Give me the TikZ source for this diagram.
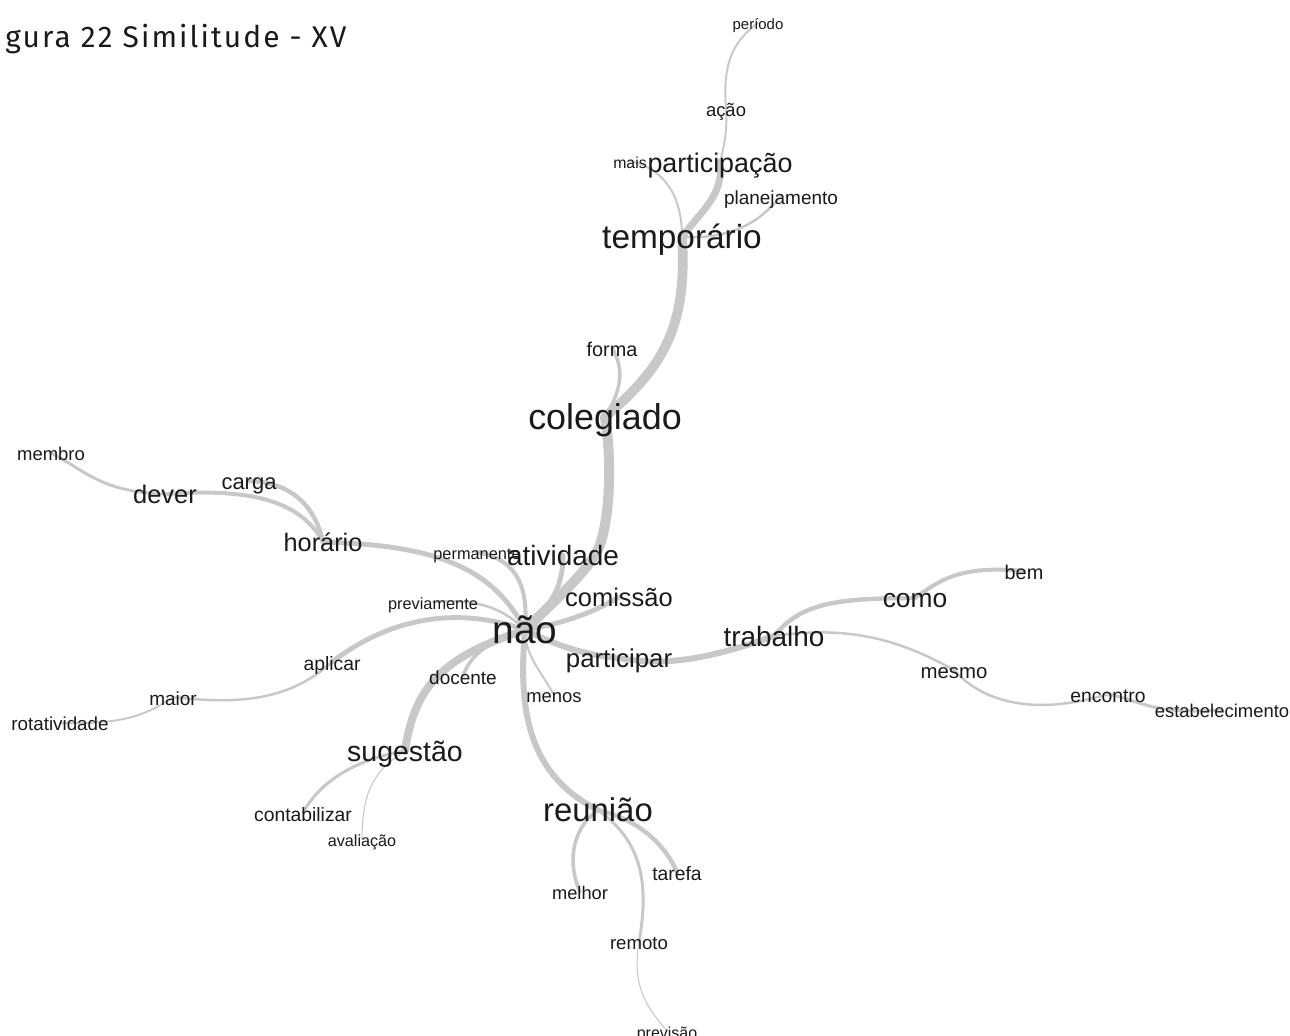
\documentclass[tikz,border=0pt]{standalone}
\usepackage{fontspec}
\setmainfont{Liberation Sans}
\newfontfamily\titlefont[LetterSpace=7]{Fira Sans}
\pgfdeclarelayer{bg}
\pgfsetlayers{bg,main}
\definecolor{edgegray}{HTML}{C8C8C8}
\definecolor{txt}{HTML}{1A1A1A}
\newcommand\wmid[1]{\raisebox{\dimexpr-0.5ex-1.7pt\relax}{#1}}
\tikzset{
 word/.style={inner sep=0pt, anchor=base, text=txt, font=\fontsize{#1}{#1}\selectfont},
 lnk/.style={draw=edgegray, line width=#1, line cap=round},
}
\begin{document}
\begin{tikzpicture}[x=0.02cm,y=-0.02cm]
\useasboundingbox (0,0) rectangle (1290,1035);
\node[anchor=base west, inner sep=0pt, font=\titlefont\fontsize{17}{17}\selectfont, text=txt] (title) at (5,47) {gura 22 Similitude - XV};

\node[word=8.5]  (periodo) at (758,23) {\wmid{período}};
\node[word=10.5] (acao) at (726,109) {\wmid{ação}};
\node[word=9]    (mais) at (630,161) {\wmid{mais}};
\node[word=15.3] (participacao) at (720,162) {\wmid{participação}};
\node[word=10.8] (planejamento) at (781,196) {\wmid{planejamento}};
\node[word=19]   (temporario) at (682,237) {\wmid{temporário}};
\node[word=11.3] (forma) at (612,348) {\wmid{forma}};
\node[word=20.4] (colegiado) at (605,417) {\wmid{colegiado}};
\node[word=10.5] (membro) at (51,453) {\wmid{membro}};
\node[word=12.5] (carga) at (249,481) {\wmid{carga}};
\node[word=14.5] (dever) at (165,494) {\wmid{dever}};
\node[word=14.4] (horario) at (323,542) {\wmid{horário}};
\node[word=9.3]  (permanente) at (477,552) {\wmid{permanente}};
\node[word=15.9] (atividade) at (563,555) {\wmid{atividade}};
\node[word=14.5] (comissao) at (619,597) {\wmid{comissão}};
\node[word=9.3]  (previamente) at (433,602) {\wmid{previamente}};
\node[word=22.1] (nao) at (525,630) {\wmid{não}};
\node[word=14.7] (participar) at (619,658) {\wmid{participar}};
\node[word=15.9] (trabalho) at (774,636) {\wmid{trabalho}};
\node[word=11]   (aplicar) at (332,662) {\wmid{aplicar}};
\node[word=10.8] (docente) at (463,676) {\wmid{docente}};
\node[word=10.5] (menos) at (554,695) {\wmid{menos}};
\node[word=10.8] (maior) at (173,697) {\wmid{maior}};
\node[word=10.7] (rotatividade) at (60,723) {\wmid{rotatividade}};
\node[word=16.2] (sugestao) at (405,751) {\wmid{sugestão}};
\node[word=18.7] (reuniao) at (598,810) {\wmid{reunião}};
\node[word=11]   (contabilizar) at (303,813) {\wmid{contabilizar}};
\node[word=9.2]  (avaliacao) at (362,839) {\wmid{avaliação}};
\node[word=11]   (tarefa) at (677,872) {\wmid{tarefa}};
\node[word=10.4] (melhor) at (580,892) {\wmid{melhor}};
\node[word=10.6] (remoto) at (639,942) {\wmid{remoto}};
\node[word=9.1]  (previsao) at (667,1031) {\wmid{previsão}};
\node[word=15]   (como) at (915,598) {\wmid{como}};
\node[word=11.3] (bem) at (1024,571) {\wmid{bem}};
\node[word=11.6] (mesmo) at (954,670) {\wmid{mesmo}};
\node[word=11]   (encontro) at (1108,694) {\wmid{encontro}};
\node[word=10.5] (estabelecimento) at (1222,710) {\wmid{estabelecimento}};

\begin{pgfonlayer}{bg}
\fill[white] (0,0) rectangle (1290,1035);
% top branch
\draw[lnk=5.7pt] (nao.base) .. controls (555,600) and (590,570) .. (600,545) .. controls (610,515) and (612,460) .. (colegiado.base);
\draw[lnk=5.5pt] (colegiado.base) .. controls (660,370) and (688,330) .. (temporario.base);
\draw[lnk=2pt] (colegiado.base) .. controls (625,385) and (622,365) .. (forma.base);
\draw[lnk=4pt] (temporario.base) .. controls (702,210) and (724,195) .. (participacao.base);
\draw[lnk=1.1pt] (participacao.base) .. controls (726,140) and (727,125) .. (acao.base);
\draw[lnk=1.1pt] (acao.base) .. controls (722,60) and (735,40) .. (periodo.base);
\draw[lnk=1.1pt] (mais.base) .. controls (668,170) and (682,200) .. (temporario.base);
\draw[lnk=1.4pt] (temporario.base) .. controls (740,240) and (765,215) .. (planejamento.base);
% centre
\draw[lnk=2.8pt] (nao.base) .. controls (550,605) and (563,590) .. (atividade.base);
\draw[lnk=2.3pt] (nao.base) .. controls (528,590) and (520,560) .. (permanente.base);
\draw[lnk=2.8pt] (horario.base) .. controls (420,545) and (490,560) .. (nao.base);
\draw[lnk=2.5pt] (horario.base) .. controls (315,505) and (290,482) .. (carga.base);
\draw[lnk=2.3pt] (horario.base) .. controls (300,500) and (250,488) .. (dever.base);
\draw[lnk=1.7pt] (dever.base) .. controls (100,492) and (85,470) .. (membro.base);
\draw[lnk=1.4pt] (previamente.base) .. controls (480,598) and (505,610) .. (nao.base);
\draw[lnk=2.8pt] (nao.base) .. controls (470,610) and (400,610) .. (aplicar.base);
\draw[lnk=1.4pt] (aplicar.base) .. controls (290,700) and (240,705) .. (maior.base);
\draw[lnk=1.1pt] (maior.base) .. controls (150,712) and (130,725) .. (rotatividade.base);
\draw[lnk=2pt] (nao.base) .. controls (490,640) and (470,655) .. (docente.base);
\draw[lnk=4.5pt] (nao.base) .. controls (450,655) and (415,680) .. (sugestao.base);
\draw[lnk=1.7pt] (sugestao.base) .. controls (360,758) and (320,780) .. (contabilizar.base);
\draw[lnk=0.6pt] (sugestao.base) .. controls (375,770) and (362,790) .. (avaliacao.base);
\draw[lnk=1.1pt] (nao.base) .. controls (525,655) and (540,670) .. (menos.base);
\draw[lnk=3.4pt] (nao.base) .. controls (518,710) and (528,775) .. (reuniao.base);
\draw[lnk=2.5pt] (reuniao.base) .. controls (640,820) and (665,845) .. (tarefa.base);
\draw[lnk=2pt] (reuniao.base) .. controls (570,830) and (568,865) .. (melhor.base);
\draw[lnk=1.7pt] (reuniao.base) .. controls (640,840) and (650,880) .. (remoto.base);
\draw[lnk=0.6pt] (remoto.base) .. controls (632,985) and (645,1005) .. (previsao.base);
\draw[lnk=2.8pt] (nao.base) .. controls (555,625) and (590,615) .. (comissao.base);
\draw[lnk=3.4pt] (nao.base) .. controls (550,642) and (580,655) .. (participar.base);
% right branch
\draw[lnk=3.4pt] (participar.base) .. controls (670,668) and (720,655) .. (trabalho.base);
\draw[lnk=2.5pt] (trabalho.base) .. controls (800,605) and (830,598) .. (como.base);
\draw[lnk=2.3pt] (como.base) .. controls (940,580) and (960,565) .. (bem.base);
\draw[lnk=1.4pt] (trabalho.base) .. controls (850,625) and (900,640) .. (mesmo.base);
\draw[lnk=1.4pt] (mesmo.base) .. controls (985,705) and (1040,715) .. (encontro.base);
\draw[lnk=1.7pt] (encontro.base) .. controls (1140,700) and (1150,715) .. (estabelecimento.base);
\end{pgfonlayer}
\end{tikzpicture}
\end{document}
